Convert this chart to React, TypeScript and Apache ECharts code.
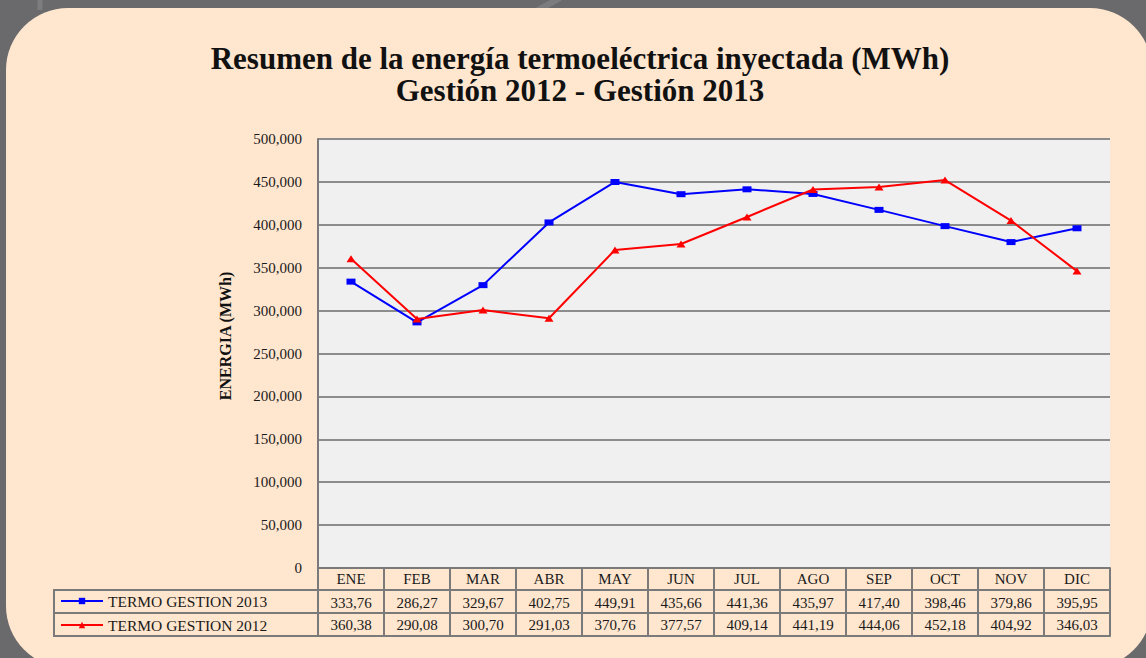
import React, { useEffect, useRef } from "react";
import * as echarts from "echarts";

const months = ["ENE", "FEB", "MAR", "ABR", "MAY", "JUN", "JUL", "AGO", "SEP", "OCT", "NOV", "DIC"];
const termo2013 = [333.76, 286.27, 329.67, 402.75, 449.91, 435.66, 441.36, 435.97, 417.4, 398.46, 379.86, 395.95];
const termo2012 = [360.38, 290.08, 300.7, 291.03, 370.76, 377.57, 409.14, 441.19, 444.06, 452.18, 404.92, 346.03];
const seriesNames = ["TERMO GESTION 2013", "TERMO GESTION 2012"];
const yTicks = { min: 0, max: 500000, interval: 50000 };

const FONT = "'Liberation Serif', 'Times New Roman', serif";
const fmtCell = (v: number) => v.toFixed(2).replace(".", ",");

export default function App() {
  const ref = useRef<HTMLDivElement>(null);
  useEffect(() => {
    if (!ref.current) return;
    const chart = echarts.init(ref.current, null, { renderer: "svg" });
    const gridLeft = 318, gridTop = 139, gridW = 792, gridH = 429;
    const lineCol = "#7a7a7a";
    const tableAxis = (offset: number, formatter: any, tickLen: number, margin: number, showLabel = true) => ({
      type: "category",
      data: months,
      gridIndex: 0,
      position: "bottom",
      offset,
      axisLine: { show: true, lineStyle: { color: lineCol, width: 2 } },
      axisTick: { show: tickLen > 0, length: tickLen, lineStyle: { color: lineCol, width: 2 } },
      axisLabel: {
        show: showLabel,
        interval: 0,
        margin,
        verticalAlign: "middle",
        fontSize: 15,
        color: "#1a1a1a",
        fontFamily: FONT,
        formatter,
      },
      splitLine: { show: false },
    });
    chart.setOption({
      animation: false,
      backgroundColor: "#6a6a6c",
      textStyle: { fontFamily: FONT },
      graphic: [
        { type: "line", shape: { x1: 40, y1: 0, x2: 40, y2: 10 }, style: { stroke: "#7c7c7e", lineWidth: 5 }, z: -10 },
        { type: "line", shape: { x1: 538, y1: 10, x2: 560, y2: -2 }, style: { stroke: "#7c7c7e", lineWidth: 6 }, z: -10 },
        {
          type: "rect",
          shape: { x: 6, y: 8, width: 1146, height: 660, r: 62 },
          style: { fill: "#FFE6CF" },
          z: -5,
        },
        {
          type: "rect",
          shape: { x: 54, y: gridTop + gridH + 22, width: gridLeft - 54, height: 46 },
          style: { fill: "none", stroke: lineCol, lineWidth: 2 },
          z: 10,
        },
        {
          type: "line",
          shape: { x1: 54, y1: gridTop + gridH + 45, x2: gridLeft, y2: gridTop + gridH + 45 },
          style: { stroke: lineCol, lineWidth: 2 },
          z: 10,
        },
        {
          type: "text",
          x: 225,
          y: 336,
          rotation: Math.PI / 2,
          style: {
            text: "ENERGIA (MWh)",
            fontFamily: FONT,
            fontSize: 16,
            fontWeight: "bold",
            fill: "#111",
            align: "center",
            verticalAlign: "middle",
          },
          z: 10,
        },
      ],
      title: {
        text: "Resumen de la energía termoeléctrica inyectada (MWh)\nGestión 2012 - Gestión 2013",
        left: 575,
        top: 37,
        textAlign: "center",
        textStyle: { fontFamily: FONT, fontSize: 31, fontWeight: "bold", color: "#111", lineHeight: 32, align: "center" },
      },
      legend: {
        orient: "vertical",
        left: 60,
        top: 593,
        padding: 0,
        itemWidth: 42,
        itemHeight: 8,
        itemGap: 8,
        textStyle: { fontFamily: FONT, fontSize: 15.5, color: "#1a1a1a", lineHeight: 16 },
        data: seriesNames,
      },
      grid: {
        left: gridLeft,
        top: gridTop,
        width: gridW,
        height: gridH,
        show: true,
        backgroundColor: "#f0f0f0",
        borderWidth: 0,
      },
      xAxis: [
        tableAxis(0, (v: string) => v, 22, 11),
        tableAxis(22, (_v: string, i: number) => fmtCell(termo2013[i]), 23, 13),
        tableAxis(45, (_v: string, i: number) => fmtCell(termo2012[i]), 23, 12),
        tableAxis(68, () => "", 0, 0, false),
      ],
      yAxis: {
        type: "value",
        min: yTicks.min,
        max: yTicks.max,
        interval: yTicks.interval,
        axisLine: { show: true, lineStyle: { color: lineCol, width: 2 } },
        axisTick: { show: false },
        axisLabel: {
          margin: 16,
          fontSize: 15,
          color: "#1a1a1a",
          fontFamily: FONT,
          formatter: (v: number) => v.toLocaleString("en-US"),
        },
        splitLine: { show: true, lineStyle: { color: "#8c8c8c", width: 2 } },
      },
      series: [
        {
          name: seriesNames[0],
          type: "line",
          xAxisIndex: 0,
          data: termo2013.map((v) => v * 1000),
          symbol: "rect",
          symbolSize: [9, 6],
          lineStyle: { color: "#0000ff", width: 2 },
          itemStyle: { color: "#0000ff" },
          z: 3,
        },
        {
          name: seriesNames[1],
          type: "line",
          xAxisIndex: 0,
          data: termo2012.map((v) => v * 1000),
          symbol: "triangle",
          symbolSize: [9, 7],
          lineStyle: { color: "#ff0000", width: 2 },
          itemStyle: { color: "#ff0000" },
          z: 4,
        },
      ],
    });
    return () => chart.dispose();
  }, []);
  return (
    <div
      ref={ref}
      style={{ position: "fixed", left: 0, top: 0, width: 1146, height: 658 }}
    />
  );
}
